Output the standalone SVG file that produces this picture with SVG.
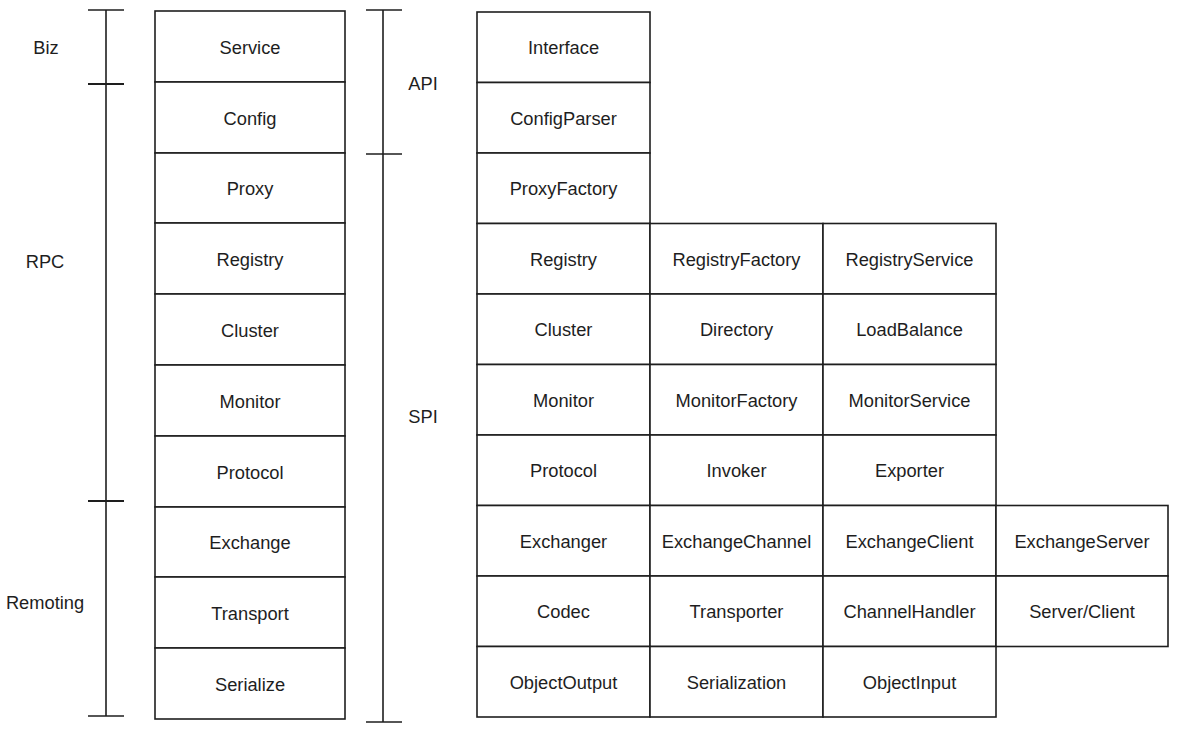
<svg xmlns="http://www.w3.org/2000/svg" width="1182" height="736" viewBox="0 0 1182 736">
<style>
.c{fill:#fff;stroke:#1e1e1e;stroke-width:1.6}
.t{font-family:"Liberation Sans",Arial,sans-serif;font-size:18.3px;fill:#1e1e1e;text-anchor:middle;dominant-baseline:central}
.b{stroke:#1e1e1e;stroke-width:1.6;fill:none}
.bt{stroke:#1e1e1e;stroke-width:2.2;fill:none}
</style>
<rect width="1182" height="736" fill="#fff"/>
<g id="brackets">
<line class="b" x1="106" y1="10" x2="106" y2="716"/>
<line class="b" x1="88" y1="10" x2="124" y2="10"/>
<line class="bt" x1="88" y1="84" x2="124" y2="84"/>
<line class="bt" x1="88" y1="501" x2="124" y2="501"/>
<line class="b" x1="88" y1="716" x2="124" y2="716"/>
<line class="b" x1="383" y1="10" x2="383" y2="722"/>
<line class="b" x1="366" y1="10" x2="402" y2="10"/>
<line class="b" x1="366" y1="154" x2="402" y2="154"/>
<line class="b" x1="366" y1="722" x2="402" y2="722"/>
</g>
<g id="labels">
<text class="t" x="46" y="47">Biz</text>
<text class="t" x="45" y="261">RPC</text>
<text class="t" x="45" y="602">Remoting</text>
<text class="t" x="423" y="83">API</text>
<text class="t" x="423" y="416">SPI</text>
</g>
<g id="layers">
<g id="l-service"><rect class="c" x="155" y="11" width="190" height="71"/><text class="t" x="250" y="47">Service</text></g>
<g id="l-config"><rect class="c" x="155" y="82" width="190" height="71"/><text class="t" x="250" y="118">Config</text></g>
<g id="l-proxy"><rect class="c" x="155" y="153" width="190" height="70"/><text class="t" x="250" y="188">Proxy</text></g>
<g id="l-registry"><rect class="c" x="155" y="223" width="190" height="71"/><text class="t" x="250" y="259">Registry</text></g>
<g id="l-cluster"><rect class="c" x="155" y="294" width="190" height="71"/><text class="t" x="250" y="330">Cluster</text></g>
<g id="l-monitor"><rect class="c" x="155" y="365" width="190" height="71"/><text class="t" x="250" y="401">Monitor</text></g>
<g id="l-protocol"><rect class="c" x="155" y="436" width="190" height="71"/><text class="t" x="250" y="472">Protocol</text></g>
<g id="l-exchange"><rect class="c" x="155" y="507" width="190" height="70"/><text class="t" x="250" y="542">Exchange</text></g>
<g id="l-transport"><rect class="c" x="155" y="577" width="190" height="71"/><text class="t" x="250" y="613">Transport</text></g>
<g id="l-serialize"><rect class="c" x="155" y="648" width="190" height="71"/><text class="t" x="250" y="684">Serialize</text></g>
</g>
<g id="grid">
<g id="g-interface"><rect class="c" x="477" y="12" width="173" height="70.5"/><text class="t" x="563.5" y="47">Interface</text></g>
<g id="g-configparser"><rect class="c" x="477" y="82.5" width="173" height="70.5"/><text class="t" x="563.5" y="118">ConfigParser</text></g>
<g id="g-proxyfactory"><rect class="c" x="477" y="153" width="173" height="70.5"/><text class="t" x="563.5" y="188">ProxyFactory</text></g>
<g id="g-registry"><rect class="c" x="477" y="223.5" width="173" height="70.5"/><text class="t" x="563.5" y="259">Registry</text></g>
<g id="g-registryfactory"><rect class="c" x="650" y="223.5" width="173" height="70.5"/><text class="t" x="736.5" y="259">RegistryFactory</text></g>
<g id="g-registryservice"><rect class="c" x="823" y="223.5" width="173" height="70.5"/><text class="t" x="909.5" y="259">RegistryService</text></g>
<g id="g-cluster"><rect class="c" x="477" y="294" width="173" height="70.5"/><text class="t" x="563.5" y="329">Cluster</text></g>
<g id="g-directory"><rect class="c" x="650" y="294" width="173" height="70.5"/><text class="t" x="736.5" y="329">Directory</text></g>
<g id="g-loadbalance"><rect class="c" x="823" y="294" width="173" height="70.5"/><text class="t" x="909.5" y="329">LoadBalance</text></g>
<g id="g-monitor"><rect class="c" x="477" y="364.5" width="173" height="70.5"/><text class="t" x="563.5" y="400">Monitor</text></g>
<g id="g-monitorfactory"><rect class="c" x="650" y="364.5" width="173" height="70.5"/><text class="t" x="736.5" y="400">MonitorFactory</text></g>
<g id="g-monitorservice"><rect class="c" x="823" y="364.5" width="173" height="70.5"/><text class="t" x="909.5" y="400">MonitorService</text></g>
<g id="g-protocol"><rect class="c" x="477" y="435" width="173" height="70.5"/><text class="t" x="563.5" y="470">Protocol</text></g>
<g id="g-invoker"><rect class="c" x="650" y="435" width="173" height="70.5"/><text class="t" x="736.5" y="470">Invoker</text></g>
<g id="g-exporter"><rect class="c" x="823" y="435" width="173" height="70.5"/><text class="t" x="909.5" y="470">Exporter</text></g>
<g id="g-exchanger"><rect class="c" x="477" y="505.5" width="173" height="70.5"/><text class="t" x="563.5" y="541">Exchanger</text></g>
<g id="g-exchangechannel"><rect class="c" x="650" y="505.5" width="173" height="70.5"/><text class="t" x="736.5" y="541">ExchangeChannel</text></g>
<g id="g-exchangeclient"><rect class="c" x="823" y="505.5" width="173" height="70.5"/><text class="t" x="909.5" y="541">ExchangeClient</text></g>
<g id="g-exchangeserver"><rect class="c" x="996" y="505.5" width="172" height="70.5"/><text class="t" x="1082" y="541">ExchangeServer</text></g>
<g id="g-codec"><rect class="c" x="477" y="576" width="173" height="70.5"/><text class="t" x="563.5" y="611">Codec</text></g>
<g id="g-transporter"><rect class="c" x="650" y="576" width="173" height="70.5"/><text class="t" x="736.5" y="611">Transporter</text></g>
<g id="g-channelhandler"><rect class="c" x="823" y="576" width="173" height="70.5"/><text class="t" x="909.5" y="611">ChannelHandler</text></g>
<g id="g-serverclient"><rect class="c" x="996" y="576" width="172" height="70.5"/><text class="t" x="1082" y="611">Server/Client</text></g>
<g id="g-objectoutput"><rect class="c" x="477" y="646.5" width="173" height="70.5"/><text class="t" x="563.5" y="682">ObjectOutput</text></g>
<g id="g-serialization"><rect class="c" x="650" y="646.5" width="173" height="70.5"/><text class="t" x="736.5" y="682">Serialization</text></g>
<g id="g-objectinput"><rect class="c" x="823" y="646.5" width="173" height="70.5"/><text class="t" x="909.5" y="682">ObjectInput</text></g>
</g>
</svg>
